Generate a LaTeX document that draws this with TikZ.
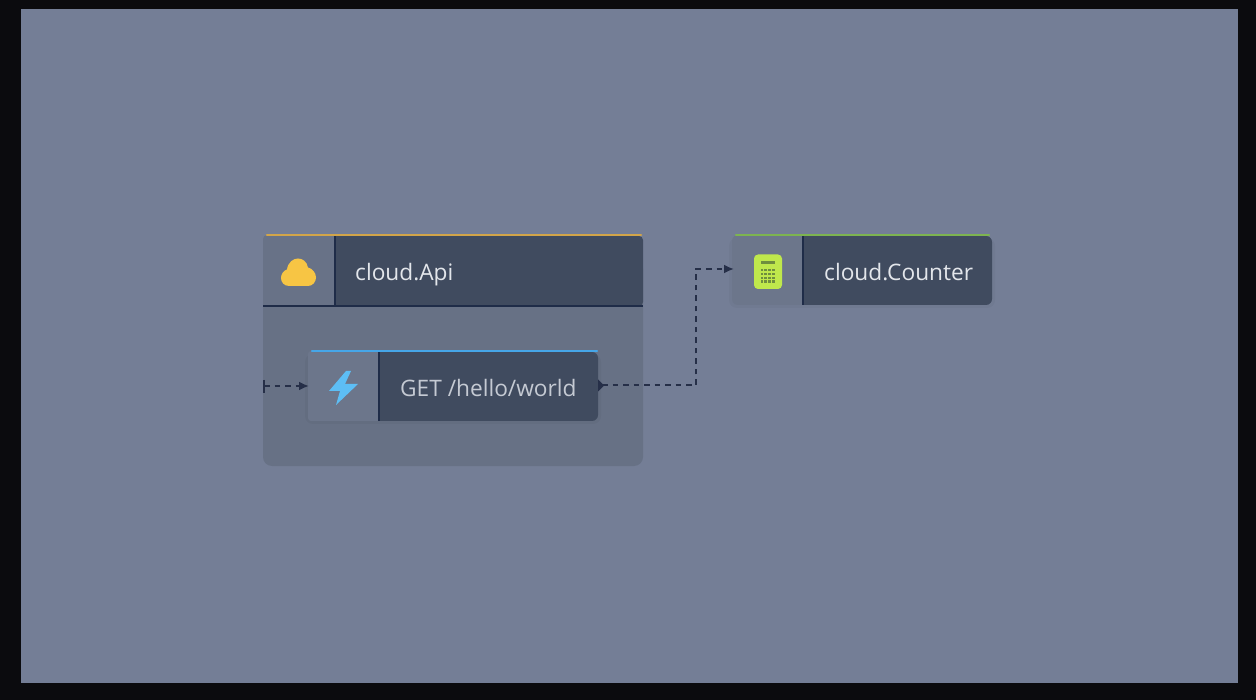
\documentclass[tikz,border=0pt]{standalone}
\usepackage{fontspec}
\setmainfont{Open Sans}
\usetikzlibrary{arrows.meta,calc}
\definecolor{frameblack}{HTML}{0B0B0E}
\definecolor{bgslate}{HTML}{747E96}
\definecolor{groupbody}{HTML}{677185}
\definecolor{headdark}{HTML}{404B5F}
\definecolor{iconcell}{HTML}{687287}
\definecolor{icontwo}{HTML}{6C768B}
\definecolor{divider}{HTML}{1F2C48}
\definecolor{amberline}{HTML}{D2A549}
\definecolor{amberfill}{HTML}{F7C544}
\definecolor{blueline}{HTML}{46A6E8}
\definecolor{bluefill}{HTML}{5DBEF5}
\definecolor{greenline}{HTML}{7DB450}
\definecolor{limefill}{HTML}{BFE84C}
\definecolor{limedark}{HTML}{6F8E3E}
\definecolor{wire}{HTML}{262F48}
\definecolor{labellight}{HTML}{E3E6EB}
\definecolor{labelsoft}{HTML}{C5CAD3}
\tikzset{
  x=1pt,y=-1pt,
  lbl/.style={anchor=base west,inner sep=0pt,font=\fontsize{22.7}{26}\selectfont,text=labellight},
  wireline/.style={draw=wire,line width=2pt,dash pattern=on 5.5pt off 5pt},
  tipline/.style={wireline,-{Latex[length=10pt,width=9pt]}},
  softedge/.style={fill=black,fill opacity=0.03,rounded corners=8pt},
}
\begin{document}
\begin{tikzpicture}
\useasboundingbox (0,0) rectangle (1256,700);
\fill[frameblack] (0,0) rectangle (1256,700);
\fill[bgslate] (21,9) rectangle (1238,683);

% cloud.Api group
\fill[groupbody,rounded corners=9pt] (263,260) rectangle (643,466);
\fill[iconcell,rounded corners=4pt] (263,306) -- (263,235) -- (340,235) -- (340,306) -- cycle;
\fill[iconcell] (263,270) rectangle (334,306);
\fill[headdark,rounded corners=4pt] (334,236) -- (643,236) -- (643,306) -- (334,306) -- cycle;
\fill[headdark] (334,236) rectangle (400,306);
\draw[divider,line width=2pt] (335,236) -- (335,306);
\draw[divider,line width=2pt] (263,306) -- (643,306);
\draw[amberline,line width=2.6pt,line cap=round] (267,235) -- (641,235);
\node[lbl] (apilabel) at (355,281) {cloud.Api};
% cloud icon
\fill[amberfill] (289,286) .. controls (284,286) and (281,282) .. (281,278)
  .. controls (281,274) and (283.5,270.5) .. (287,269.5)
  .. controls (288,262) and (293.5,258.5) .. (298,258.5)
  .. controls (303,258.5) and (307,262) .. (308,267.5)
  .. controls (312.5,268.5) and (316,273) .. (316,277.5)
  .. controls (316,282) and (312.5,286) .. (308,286) -- cycle;

% GET node
\fill[softedge] (305,354) rectangle (601,424);
\fill[icontwo,rounded corners=3pt] (308,351) -- (308,421) -- (385,421) -- (385,351) -- cycle;
\fill[headdark,rounded corners=6pt] (379,352) -- (598,352) -- (598,421) -- (379,421) -- cycle;
\fill[headdark] (379,352) rectangle (420,421);
\draw[divider,line width=2pt] (379,352) -- (379,421);
\draw[blueline,line width=2.4pt,line cap=round] (312,351) -- (597,351);
\node[lbl,text=labelsoft] (getlabel) at (400,397) {GET /hello/world};
\fill[bluefill] (346,371) -- (329,391) -- (340,391) -- (336,405) -- (358,384) -- (345,384) -- (351,371) -- cycle;

% cloud.Counter node
\fill[softedge] (729,238) rectangle (995,308);
\fill[icontwo,rounded corners=6pt] (732,235) -- (732,305) -- (810,305) -- (810,235) -- cycle;
\fill[headdark,rounded corners=6pt] (803,236) -- (992,236) -- (992,305) -- (803,305) -- cycle;
\fill[headdark] (803,236) rectangle (840,305);
\draw[divider,line width=2pt] (803,236) -- (803,305);
\draw[greenline,line width=2.4pt,line cap=round] (736,235) -- (989,235);
\node[lbl] (counterlabel) at (824,281) {cloud.Counter};
% calculator icon
\fill[limefill,rounded corners=4pt] (754,254.5) rectangle (782,289);
\fill[limedark] (761,261.5) rectangle (775,264);
\foreach \r in {0,1,2,3}{\foreach \c in {0,1,2,3}{
  \fill[limedark] ({760.5+\c*3.9},{269+\r*3.8}) rectangle ++(2.6,2.4);
}}

% connector anchors
\coordinate (groupin) at (264,386);
\coordinate (getin) at (309,386);
\coordinate (getout) at (602,385.5);
\coordinate (bend) at (696,385.5);
\coordinate (counterin) at (734,269);
\draw[wire,line width=2.4pt] (264,380) -- (264,393);
\draw[tipline] (groupin) -- (getin);
\fill[wire] (598,379.5) -- (604,385.5) -- (598,391.5) -- cycle;
\draw[tipline] (getout) -- (bend) |- (counterin);
\end{tikzpicture}
\end{document}
